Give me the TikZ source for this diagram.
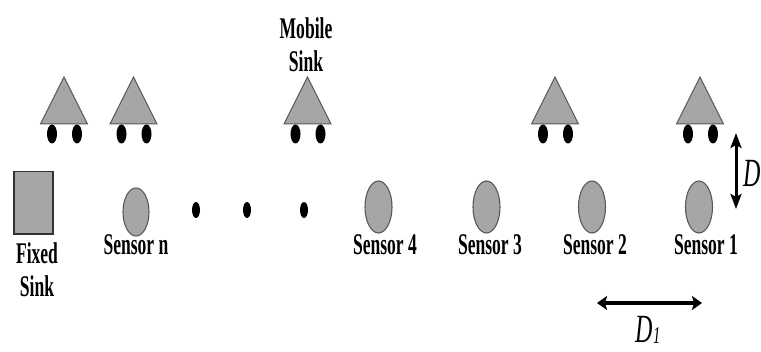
\documentclass[tikz,border=0pt]{standalone}
\usepackage{fontspec}
\setmainfont{Liberation Serif}[FakeStretch=0.585]
\newfontfamily\dimfont{Liberation Serif}[FakeStretch=0.6]
\usetikzlibrary{arrows.meta}
\definecolor{fillgray}{RGB}{166,166,166}
\tikzset{
  x=1pt,y=-1pt,
  lab/.style={font=\fontsize{30}{33}\selectfont\bfseries,inner sep=0pt,align=center,text=black},
  dlab/.style={font=\dimfont\fontsize{40}{40}\selectfont\itshape,inner sep=0pt,text=black},
  tri/.style={draw=black!65,fill=fillgray,line width=1pt,line join=miter},
  sensor/.style={draw=black!65,fill=fillgray,line width=1.1pt},
  harrow/.style={line width=3.8pt,{Stealth[length=10pt,width=14pt,inset=2pt]}-{Stealth[length=10pt,width=14pt,inset=2pt]}},
  varrow/.style={line width=3pt,{Stealth[length=15pt,width=11pt,inset=3pt]}-{Stealth[length=15pt,width=11pt,inset=3pt]}}
}
\newcommand{\sinkbot}[1]{%
  \draw[tri] (#1,77) -- (#1+23.5,124) -- (#1-23.5,124) -- cycle;
  \fill[black] (#1-12,134) ellipse [x radius=5,y radius=9.5];
  \fill[black] (#1+13,134) ellipse [x radius=5,y radius=9.5];
}
\newcommand{\sensorat}[2]{\draw[sensor] (#1,#2) ellipse [x radius=13.5,y radius=26];}
\begin{document}
\begin{tikzpicture}
\path[use as bounding box] (0,0) rectangle (761,352);
\fill[white] (0,0) rectangle (761,352);
\sinkbot{64}
\sinkbot{133.5}
\sinkbot{307.5}
\sinkbot{555}
\sinkbot{700}
\draw[draw=black!80,fill=fillgray,line width=1.6pt] (14,171.5) rectangle (53,234);
\draw[sensor] (136,212) ellipse [x radius=13,y radius=24];
\sensorat{378.5}{207}
\sensorat{486.5}{207}
\sensorat{592}{207}
\sensorat{699}{207}
\fill[black] (196,210) ellipse [x radius=4,y radius=8];
\fill[black] (247,210) ellipse [x radius=4,y radius=8];
\fill[black] (304,210) ellipse [x radius=4,y radius=8];
\node[lab] (mobile) at (306,45) {Mobile\\Sink};
\node[lab] (fixed) at (37,270) {Fixed\\Sink};
\node[lab] (sn) at (136,245) {Sensor n};
\node[lab] (s4) at (385,245) {Sensor 4};
\node[lab] (s3) at (490,245) {Sensor 3};
\node[lab] (s2) at (595,245) {Sensor 2};
\node[lab] (s1) at (706,245) {Sensor 1};
\coordinate (aL) at (597,303);
\coordinate (aR) at (702,303);
\coordinate (bT) at (736,133);
\coordinate (bB) at (736,209);
\draw[harrow] (aL) -- (aR);
\draw[varrow] (bT) -- (bB);
\node[dlab,anchor=base] (d1) at (648,343) {D\raisebox{-1pt}{\fontsize{24}{24}\selectfont 1}};
\node[dlab,anchor=base east] (d2) at (761,187) {D};
\end{tikzpicture}
\end{document}
